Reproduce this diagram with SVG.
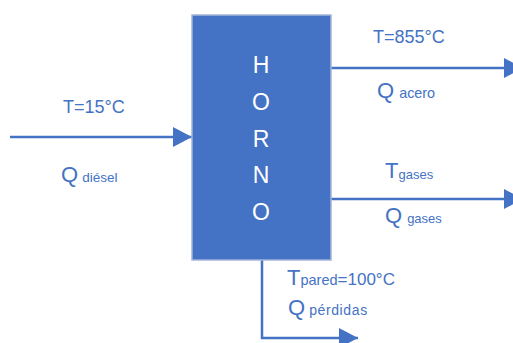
<svg xmlns="http://www.w3.org/2000/svg" width="513" height="343" viewBox="0 0 513 343">
<defs>
<marker id="ah" markerUnits="userSpaceOnUse" markerWidth="20" markerHeight="20" refX="19" refY="10" orient="auto">
<path d="M0,0 L19,10 L0,20 z" fill="#4472C4"/>
</marker>
<style>
.t{font-family:"Liberation Sans",Arial,sans-serif;fill:#4472C4}
.w{font-family:"Liberation Sans",Arial,sans-serif;fill:#FFFFFF;font-size:23px;text-anchor:middle}
.c{stroke:#4472C4;stroke-width:2.5;fill:none}
</style>
</defs>
<rect width="513" height="343" fill="#FFFFFF"/>
<g id="connectors">
<line class="c" x1="10" y1="137" x2="192" y2="137" marker-end="url(#ah)"/>
<line class="c" x1="331" y1="68" x2="523" y2="68" marker-end="url(#ah)"/>
<line class="c" x1="331" y1="199" x2="523" y2="199" marker-end="url(#ah)"/>
<polyline class="c" points="262,260 262,338 358,338" marker-end="url(#ah)"/>
</g>
<g id="horno">
<rect x="192" y="15" width="139" height="245" fill="#4472C4" stroke="#A3B5DA" stroke-width="1.5"/>
<text class="w" x="261" y="73">H</text>
<text class="w" x="261" y="110">O</text>
<text class="w" x="261" y="147">R</text>
<text class="w" x="261" y="183">N</text>
<text class="w" x="261" y="220">O</text>
</g>
<g id="label-diesel">
<text class="t" x="63" y="113" font-size="18">T=15°C</text>
<text class="t" x="61" y="182" font-size="22">Q<tspan font-size="13.5" dx="4">diésel</tspan></text>
</g>
<g id="label-acero">
<text class="t" x="373" y="43" font-size="18">T=855°C</text>
<text class="t" x="377" y="98" font-size="22">Q<tspan font-size="14.4" dx="5">acero</tspan></text>
</g>
<g id="label-gases">
<text class="t" x="385" y="178" font-size="22">T<tspan font-size="13" dy="1">gases</tspan></text>
<text class="t" x="385" y="223" font-size="22">Q<tspan font-size="13" dx="5">gases</tspan></text>
</g>
<g id="label-perdidas">
<text class="t" x="287" y="285" font-size="22">T<tspan font-size="14.5">pared</tspan><tspan font-size="17">=100°C</tspan></text>
<text class="t" x="288" y="315" font-size="22">Q<tspan font-size="14" dx="4" textLength="58" lengthAdjust="spacing">pérdidas</tspan></text>
</g>
</svg>
